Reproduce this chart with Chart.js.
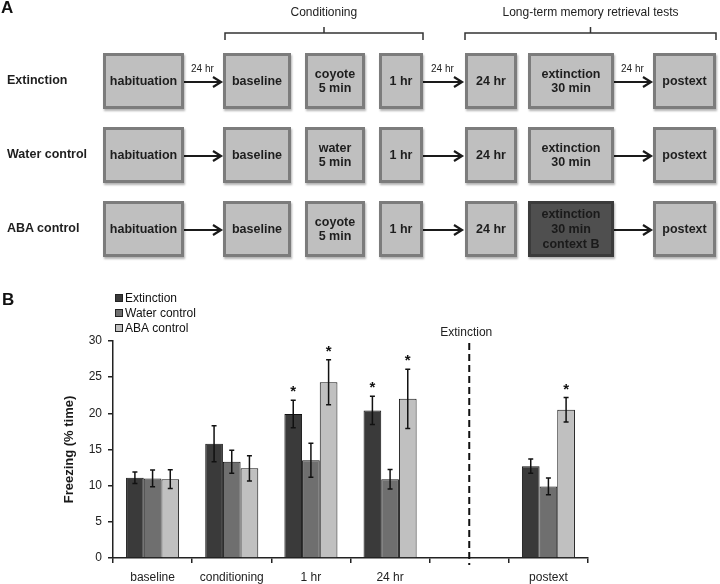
<!DOCTYPE html>
<html>
<head>
<meta charset="utf-8">
<script src="https://cdn.jsdelivr.net/npm/chart.js@4.4.0/dist/chart.umd.min.js"></script>
<style>
body { margin: 0; background: #fff; font-family: Arial, "Liberation Sans", sans-serif; }
#wrap { position: relative; width: 720px; height: 584px; overflow: hidden; }
#myChart { position: absolute; left: 0; top: 0; }
#diagram { position: absolute; left: 0; top: 0; }
.box { position: absolute; box-sizing: border-box; background: #bfbfbf; border: 3px solid #7c7c7c;
  box-shadow: 1px 2px 2px rgba(0,0,0,0.3); display: flex; align-items: center; justify-content: center;
  text-align: center; font-weight: bold; font-size: 12.5px; line-height: 14px; color: #1e1e1e; }
.box.dark { background: #4f4f4f; border-color: #3b3b3b; color: #1a1a1a; line-height: 15px; }
.lbl { position: absolute; font-size: 12px; color: #222; white-space: nowrap; }
.row { position: absolute; font-size: 12.5px; font-weight: bold; color: #1e1e1e; white-space: nowrap; }
.panel { position: absolute; font-size: 17px; font-weight: bold; color: #111; }
</style>
</head>
<body>
<div id="wrap">
  <canvas id="myChart" width="720" height="584"></canvas>
  <svg id="diagram" width="720" height="280"></svg>
</div>
<script>
// ---- panel B data ----
const categories = ['baseline', 'conditioning', '1 hr', '24 hr', '', 'postext'];
const extinction = [11.1, 15.8, 19.9, 20.4, null, 12.7];
const extinctionErr = [0.8, 2.5, 1.9, 1.95, null, 1.0];
const extinctionSig = [0, 0, 1, 1, 0, 0];
const waterControl = [11.0, 13.3, 13.5, 10.9, null, 9.9];
const waterErr = [1.15, 1.6, 2.35, 1.35, null, 1.15];
const waterSig = [0, 0, 0, 0, 0, 0];
const abaControl = [10.9, 12.4, 24.3, 22.0, null, 20.5];
const abaErr = [1.3, 1.75, 3.1, 4.1, null, 1.7];
const abaSig = [0, 0, 1, 1, 0, 1];
const yTicks = [0, 5, 10, 15, 20, 25, 30];
const extinctionMarkIndex = 4;

// ---- panel A text ----
const groups = ['Extinction', 'Water control', 'ABA control'];
const steps = [
  ['habituation', 'baseline', 'coyote\n5 min', '1 hr', '24 hr', 'extinction\n30 min', 'postext'],
  ['habituation', 'baseline', 'water\n5 min', '1 hr', '24 hr', 'extinction\n30 min', 'postext'],
  ['habituation', 'baseline', 'coyote\n5 min', '1 hr', '24 hr', 'extinction\n30 min\ncontext B', 'postext']
];
const delays = ['24 hr', '24 hr', '24 hr'];

// layout of the diagram
const boxCols = [[103, 184], [223, 291], [305, 365], [379, 423], [465, 517], [528, 614], [653, 716]];
const rowTops = [53, 127, 201];
const boxH = 56;
const arrows = [[184, 221, 0], [423, 462, 3], [614, 651, 5]];

function drawDiagram() {
  const wrap = document.getElementById('wrap');
  const svg = document.getElementById('diagram');
  let s = '';
  const stroke = '#1a1a1a';

  function addDiv(cls, text, css) {
    const d = document.createElement('div');
    d.className = cls;
    d.innerHTML = text.split('\n').join('<br>');
    Object.assign(d.style, css);
    wrap.appendChild(d);
    return d;
  }

  addDiv('panel', 'A', { left: '1px', top: '-2px' });
  addDiv('panel', 'B', { left: '2px', top: '290px' });

  // brackets + headers
  const brackets = [[225, 423, 'Conditioning'], [465, 716, 'Long-term memory retrieval tests']];
  brackets.forEach(b => {
    const mid = (b[0] + b[1]) / 2;
    s += `<path d="M${b[0]},40 V33 H${b[1]} V40 M${mid},33 V27" fill="none" stroke="#333" stroke-width="1.5"/>`;
    const t = addDiv('lbl', b[2], { top: '5px' });
    t.style.left = (mid - t.offsetWidth / 2) + 'px';
  });

  groups.forEach((g, r) => {
    const top = rowTops[r];
    const cy = top + boxH / 2;
    addDiv('row', g, { left: '7px', top: (cy - 8) + 'px' });
    steps[r].forEach((txt, c) => {
      const [x0, x1] = boxCols[c];
      const dark = txt.indexOf('context B') >= 0;
      addDiv(dark ? 'box dark' : 'box', txt, {
        left: x0 + 'px', top: top + 'px', width: (x1 - x0) + 'px', height: boxH + 'px'
      });
    });
    arrows.forEach(a => {
      const ay = cy + 1;
      s += `<line x1="${a[0]}" y1="${ay}" x2="${a[1]}" y2="${ay}" stroke="${stroke}" stroke-width="2.2"/>`;
      s += `<path d="M${a[1] - 8},${ay - 5} L${a[1]},${ay} L${a[1] - 8},${ay + 5}" fill="none" stroke="${stroke}" stroke-width="2.2"/>`;
      if (r === 0) {
        const t = addDiv('lbl', delays[0], { top: (top + 10) + 'px', fontSize: '10px' });
        t.style.left = ((a[0] + a[1]) / 2 - t.offsetWidth / 2) + 'px';
      }
    });
  });
  svg.innerHTML = s;
}

// error bars, significance stars, extinction marker, legend
const extras = {
  id: 'extras',
  afterDatasetsDraw(chart) {
    const ctx = chart.ctx;
    const y = chart.scales.y, x = chart.scales.x;
    ctx.save();
    chart.data.datasets.forEach((ds, i) => {
      const meta = chart.getDatasetMeta(i);
      meta.data.forEach((bar, j) => {
        const v = ds.data[j];
        if (v == null) return;
        const e = ds.errors[j];
        const top = y.getPixelForValue(v + e), bot = y.getPixelForValue(v - e);
        ctx.strokeStyle = '#111';
        ctx.lineWidth = 1.5;
        ctx.beginPath();
        ctx.moveTo(bar.x, top); ctx.lineTo(bar.x, bot);
        ctx.moveTo(bar.x - 2.5, top); ctx.lineTo(bar.x + 2.5, top);
        ctx.moveTo(bar.x - 2.5, bot); ctx.lineTo(bar.x + 2.5, bot);
        ctx.stroke();
        if (ds.sig[j]) {
          ctx.fillStyle = '#111';
          ctx.font = 'bold 15px Arial';
          ctx.textAlign = 'center';
          ctx.textBaseline = 'middle';
          ctx.fillText('*', bar.x, top - 8);
        }
      });
    });

    // extinction divider
    const dx = x.getPixelForValue(extinctionMarkIndex);
    ctx.strokeStyle = '#111';
    ctx.lineWidth = 2;
    ctx.setLineDash([7, 4]);
    ctx.beginPath();
    ctx.moveTo(dx, chart.chartArea.top + 2);
    ctx.lineTo(dx, chart.chartArea.bottom + 7);
    ctx.stroke();
    ctx.setLineDash([]);
    ctx.fillStyle = '#222';
    ctx.font = '12px Arial';
    ctx.textAlign = 'center';
    ctx.textBaseline = 'middle';
    ctx.fillText('Extinction', dx - 3, chart.chartArea.top - 8);

    // legend
    ctx.textAlign = 'left';
    chart.data.datasets.forEach((ds, i) => {
      const ly = 298 + i * 15;
      ctx.fillStyle = ds.backgroundColor;
      ctx.fillRect(115, ly - 4, 8, 8);
      ctx.strokeStyle = '#222';
      ctx.lineWidth = 1;
      ctx.strokeRect(115.5, ly - 3.5, 7, 7);
      ctx.fillStyle = '#111';
      ctx.font = '12px Arial';
      ctx.fillText(ds.label, 125, ly + 0.5);
    });
    ctx.restore();
  }
};

function init() {
  drawDiagram();
  const ctx = document.getElementById('myChart').getContext('2d');
  const font = { family: 'Arial, "Liberation Sans", sans-serif', size: 12 };
  new Chart(ctx, {
    type: 'bar',
    data: {
      labels: categories,
      datasets: [
        { label: 'Extinction', data: extinction, errors: extinctionErr, sig: extinctionSig,
          backgroundColor: '#3a3a3a', borderColor: '#111', borderWidth: 1 },
        { label: 'Water control', data: waterControl, errors: waterErr, sig: waterSig,
          backgroundColor: '#6f6f6f', borderColor: '#111', borderWidth: 1 },
        { label: 'ABA control', data: abaControl, errors: abaErr, sig: abaSig,
          backgroundColor: '#c0c0c0', borderColor: '#111', borderWidth: 1 }
      ]
    },
    options: {
      responsive: false,
      animation: false,
      categoryPercentage: 0.67,
      barPercentage: 1.0,
      layout: { padding: { left: 60, right: 132, top: 341, bottom: 0 } },
      plugins: { legend: { display: false }, tooltip: { enabled: false } },
      scales: {
        x: {
          ticks: { color: '#222', font: font, padding: 7 },
          grid: { offset: true, drawOnChartArea: false, drawTicks: true, tickLength: 5, color: '#222', lineWidth: 1.5 },
          border: { display: true, color: '#222', width: 1.5 },
          afterFit: s => { s.height = 26; }
        },
        y: {
          min: 0, max: 30,
          afterBuildTicks: s => { s.ticks = yTicks.map(v => ({ value: v })); },
          ticks: { color: '#222', font: font, padding: 6 },
          grid: { drawOnChartArea: false, drawTicks: true, tickLength: 5, color: '#222', lineWidth: 1.5 },
          border: { display: true, color: '#222', width: 1.5 },
          title: { display: true, text: 'Freezing (% time)', color: '#1a1a1a',
            font: { family: font.family, size: 13, weight: 'bold' }, padding: { top: 2, bottom: 0 } },
          afterFit: s => { s.width = 53; }
        }
      }
    },
    plugins: [extras]
  });
}

init();
</script>
</body>
</html>
